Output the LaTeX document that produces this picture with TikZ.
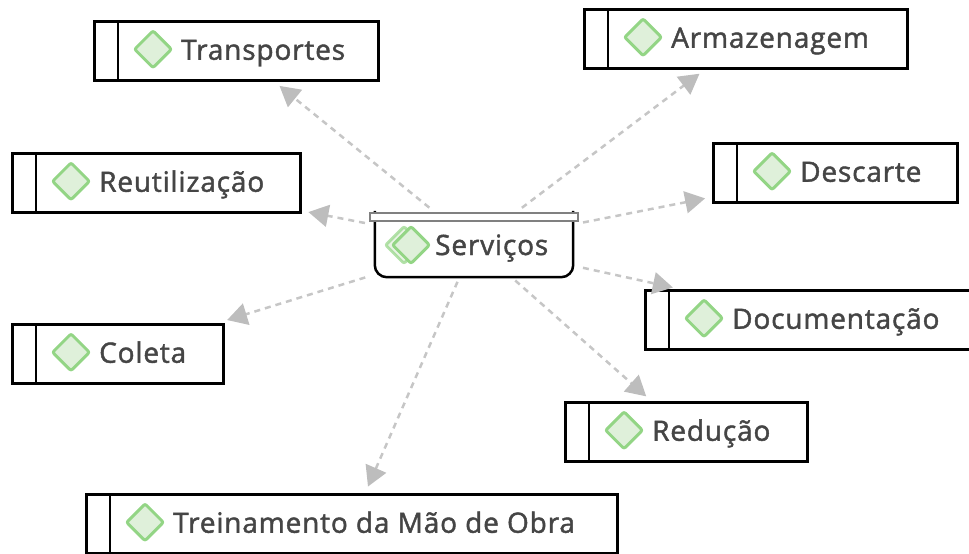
\documentclass[tikz,border=0pt]{standalone}
\usepackage{xcolor}
\usepackage{fontspec}
\usetikzlibrary{arrows.meta,shapes.geometric}
\newfontfamily\boxfont[RawFeature={embolden=1.6},LetterSpace=3]{Open Sans}
\definecolor{textgray}{HTML}{454545}
\definecolor{linkgray}{HTML}{C6C6C6}
\definecolor{tipgray}{HTML}{BDBDBD}
\definecolor{leafgreen}{HTML}{93D585}
\definecolor{leaffill}{HTML}{DFF0DA}
\tikzset{
    taskbox/.style = {draw, line width=2.5pt, rectangle, anchor=north west, minimum height=59pt, inner sep=0pt},
    gem/.style = {diamond, rounded corners=2pt, draw=leafgreen, fill=leaffill, line width=3pt, minimum width=38pt, minimum height=38pt, inner sep=0pt},
    caption/.style = {anchor=base west, inner sep=0pt, text=textgray, font=\boxfont\fontsize{28}{32}\selectfont},
    link/.style = {draw=linkgray, line width=2.5pt, dash pattern=on 6pt off 5pt, -{Triangle[length=20pt,width=22pt,color=tipgray]}, shorten >=7pt, shorten <=5pt},
}
\begin{document}
\begin{tikzpicture}[x=1pt,y=-1pt]
    \useasboundingbox (0,0) rectangle (969,554);
    \clip (0,0) rectangle (969,554);
    % outer boxes
    \foreach \name/\xa/\ya/\boxw/\txt in {
        transportes/93/20/284/Transportes,
        armazenagem/583/8/323/Armazenagem,
        descarte/712/142/244/Descarte,
        reutilizacao/11/152/288/Reutilização,
        documentacao/644/289/350/Documentação,
        coleta/11/323/211/Coleta,
        reducao/564/401/242/Redução,
        treinamento/85/493/531/Treinamento da Mão de Obra%
    }{
        \node[taskbox, minimum width=\boxw pt] (\name) at (\xa,\ya) {};
        \draw[line width=2.5pt] ([xshift=25pt]\name.north west) -- ([xshift=25pt]\name.south west);
        \node[gem] (\name gem) at ([xshift=60pt,yshift=1.5pt]\name.west) {};
        \node[caption] (\name txt) at ([xshift=88pt,yshift=-9pt]\name.west) {\txt};
    }
    % centre
    \node[rectangle, minimum width=198pt, minimum height=66pt, inner sep=0pt] (servicos) at (474,244) {};
    \draw[line width=2.5pt] (servicos.north west) -- ([yshift=12pt]servicos.south west)
        arc[start angle=180, end angle=270, radius=12pt] -- ([xshift=-12pt]servicos.south east)
        arc[start angle=270, end angle=360, radius=12pt] -- (servicos.north east);
    \node[rectangle, draw=gray, fill=white, line width=2.5pt, minimum width=208pt, minimum height=8pt, inner sep=0pt] (servicoshead) at (474,217) {};
    \node[gem, opacity=.7] (servicosgem2) at (404,245) {};
    \node[gem] (servicosgem) at (411,245) {};
    \node[caption] (servicostxt) at (435,255) {Serviços};
    % links
    \draw[link] (servicos) -- (transportes);
    \draw[link] (servicos) -- (armazenagem);
    \draw[link, shorten <=10pt] (servicos) -- (descarte);
    \draw[link, shorten <=10pt] (servicos) -- (reutilizacao);
    \draw[link, shorten <=10pt] (servicos) -- (documentacao);
    \draw[link, shorten <=10pt, shorten >=10pt] (servicos) -- (coleta);
    \draw[link] (servicos) -- (reducao);
    \draw[link] (servicos) -- (treinamento);
\end{tikzpicture}
\end{document}
